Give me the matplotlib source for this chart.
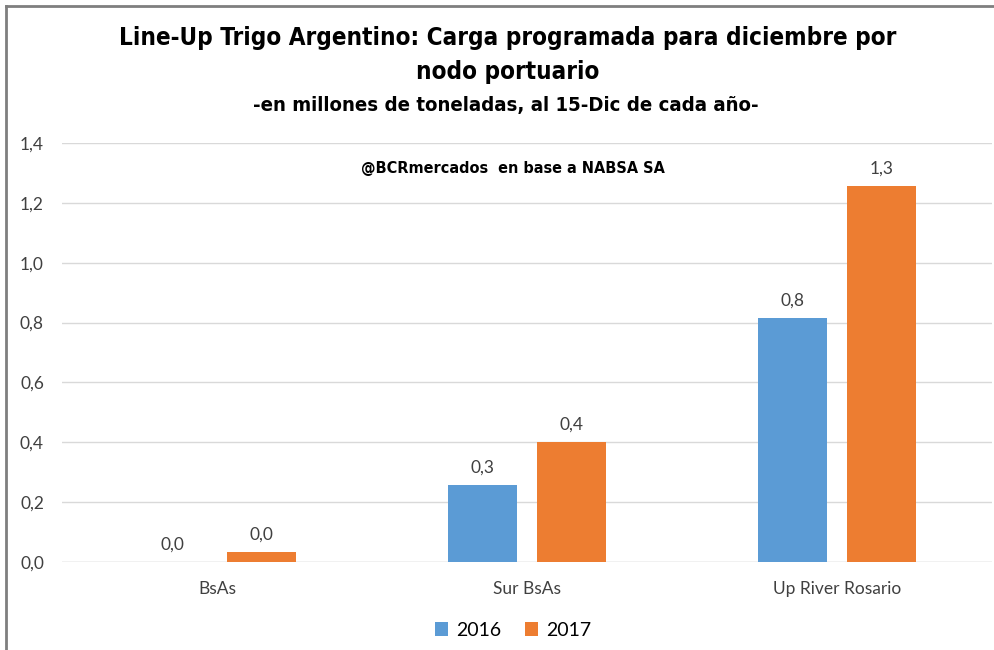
import matplotlib
matplotlib.use("Agg")
import matplotlib.pyplot as plt
from matplotlib.patches import Patch
from matplotlib.lines import Line2D
import numpy as np

categories = ["BsAs", "Sur BsAs", "Up River Rosario"]
series_names = ["2016", "2017"]
values_2016 = [0.0, 0.257, 0.815]
values_2017 = [0.033, 0.40, 1.256]
yticks = [0.0, 0.2, 0.4, 0.6, 0.8, 1.0, 1.2, 1.4]

colors = ["#5B9BD5", "#ED7D31"]
body_font = ["Lato", "DejaVu Sans"]
title_font = ["DejaVu Sans"]

fig = plt.figure(figsize=(9.95, 6.5), dpi=100)
ax = fig.add_axes([62/995, 88/650, (992-62)/995, (562-143)/650])

x = np.arange(len(categories))
w = 0.223
off = 0.1435
for i, (vals, name) in enumerate(zip([values_2016, values_2017], series_names)):
    pos = x + (off if i else -off)
    bars = ax.bar(pos, vals, width=w, color=colors[i], zorder=3, label=name)
    for b, v in zip(bars, vals):
        ax.annotate(f"{v:.1f}".replace(".", ","), (b.get_x() + b.get_width()/2, v),
                    xytext=(0, 7), textcoords="offset points", ha="center", va="bottom",
                    fontsize=12.5, color="#404040", family=body_font)

ax.set_xlim(-0.5, 2.5)
ax.set_ylim(0, 1.4)
ax.set_yticks(yticks)
ax.set_yticklabels([f"{t:.1f}".replace(".", ",") for t in yticks], family=body_font,
                   fontsize=12.5, color="#404040")
ax.set_xticks(x)
ax.set_xticklabels(categories, family=body_font, fontsize=12.5, color="#404040")
ax.tick_params(axis="y", length=0, pad=13)
ax.tick_params(axis="x", length=0, pad=14)
ax.grid(axis="y", color="#d9d9d9", linewidth=1.0, zorder=0)
for s in ax.spines.values():
    s.set_visible(False)
ax.axhline(0, color="#d9d9d9", linewidth=1.0, zorder=2)

renderer = fig.canvas.get_renderer()

def fitted_text(xc, yc, s, target_w, size):
    t = fig.text(xc/995, 1-yc/650, s, ha="center", va="center", fontsize=size,
                 fontweight="bold", family=title_font, fontstretch="condensed")
    bw = t.get_window_extent(renderer).width
    t.set_fontsize(size * target_w / bw)
    return t

t1 = fitted_text(508, 38, "Line-Up Trigo Argentino: Carga programada para diciembre por", 776, 20)
t2 = fig.text(508/995, 1-72/650, "nodo portuario", ha="center", va="center",
              fontsize=t1.get_fontsize(), fontweight="bold", family=title_font,
              fontstretch="condensed")
fitted_text(506, 105, "-en millones de toneladas, al 15-Dic de cada año-", 507, 16)
fitted_text(513, 168, "@BCRmercados  en base a NABSA SA", 305, 11.5)

handles = [Patch(facecolor=c, edgecolor="none") for c in colors]
fig.legend(handles, series_names, loc="center", bbox_to_anchor=(513/995, 1-630/650),
           ncol=2, frameon=False, prop={"family": body_font, "size": 14},
           handlelength=0.7, handleheight=0.7, handletextpad=0.4, columnspacing=1.2)

fig.add_artist(Line2D([6.5/995, 6.5/995], [0, 1-5.5/650], transform=fig.transFigure,
                      color="#7f7f7f", linewidth=2))
fig.add_artist(Line2D([6.5/995, 1], [1-5.5/650, 1-5.5/650], transform=fig.transFigure,
                      color="#7f7f7f", linewidth=2))

fig.savefig("out.png", dpi=100)
